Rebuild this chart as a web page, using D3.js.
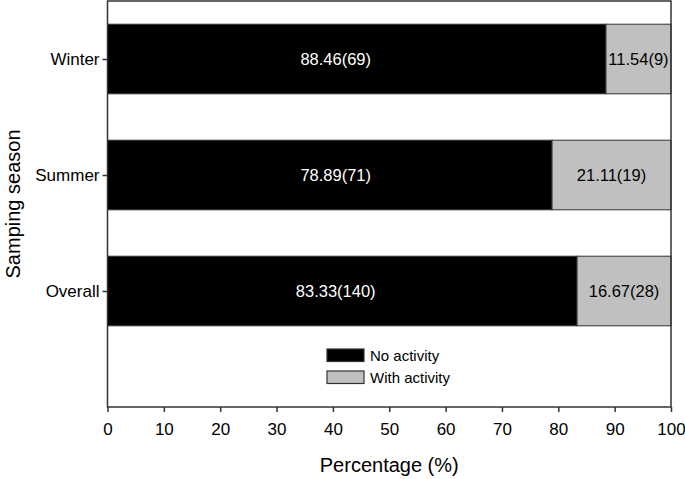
<html>
<head>
<script src="https://d3js.org/d3.v7.min.js"></script>
<style>
body { margin: 0; background: #fff; }
text { font-family: "Liberation Sans", Arial, sans-serif; }
</style>
</head>
<body>
<svg width="685" height="479"></svg>
<script>
var seasons = ["Winter", "Summer", "Overall"];
var seasonPos = [3, 2, 1];
var noActivity = [88.46, 78.89, 83.33];
var withActivity = [11.54, 21.11, 16.67];
var noCount = [69, 71, 140];
var withCount = [9, 19, 28];
var xTicks = [0, 10, 20, 30, 40, 50, 60, 70, 80, 90, 100];
var seriesNames = ["No activity", "With activity"];
var seriesColors = ["#000000", "#c0c0c0"];

var width = 685, height = 479;
var margin = {top: 1, right: 14, bottom: 72, left: 107.5};
var innerwidth = width - margin.left - margin.right;
var innerheight = height - margin.top - margin.bottom;

var svg = d3.select("svg");
var g = svg.append("g")
	.attr("transform", "translate(" + margin.left + "," + margin.top + ")");

var x = d3.scaleLinear().domain([0, 100]).range([0, innerwidth]);
var y = d3.scaleLinear().domain([0, 3.5]).range([innerheight, 0]);
var barH = y(0) - y(0.6);

var data = seasons.map(function(s, i) {
	return {season: s, pos: seasonPos[i], no: noActivity[i], yes: withActivity[i], nc: noCount[i], yc: withCount[i]};
});

// black segments
g.selectAll(".nobar").data(data).enter().append("rect")
	.attr("x", x(0))
	.attr("y", d => y(d.pos) - barH / 2)
	.attr("width", d => x(d.no) - x(0))
	.attr("height", barH)
	.attr("fill", seriesColors[0])
	.attr("stroke", "#333")
	.attr("stroke-width", 1);
// gray segments
g.selectAll(".yesbar").data(data).enter().append("rect")
	.attr("x", d => x(d.no))
	.attr("y", d => y(d.pos) - barH / 2)
	.attr("width", d => x(d.no + d.yes) - x(d.no))
	.attr("height", barH)
	.attr("fill", seriesColors[1])
	.attr("stroke", "#333")
	.attr("stroke-width", 1);

// labels
g.selectAll(".nolab").data(data).enter().append("text")
	.attr("x", x(40.5))
	.attr("y", d => y(d.pos))
	.attr("dy", "0.36em")
	.attr("text-anchor", "middle")
	.attr("fill", "#fff")
	.style("font-size", "16.5px")
	.text(d => d.no.toFixed(2) + "(" + d.nc + ")");
g.selectAll(".yeslab").data(data).enter().append("text")
	.attr("x", d => x(d.no + d.yes / 2))
	.attr("y", d => y(d.pos))
	.attr("dy", "0.36em")
	.attr("text-anchor", "middle")
	.attr("fill", "#000")
	.style("font-size", "16.5px")
	.text(d => d.yes.toFixed(2) + "(" + d.yc + ")");

// frame
g.append("rect")
	.attr("x", 0).attr("y", 0)
	.attr("width", innerwidth).attr("height", innerheight)
	.attr("fill", "none")
	.attr("stroke", "#333")
	.attr("stroke-width", 1.5);

// axes
var xAxis = g.append("g")
	.attr("transform", "translate(0," + innerheight + ")")
	.call(d3.axisBottom(x).tickValues(xTicks).tickSize(5).tickPadding(11));
xAxis.select(".domain").remove();
xAxis.selectAll("line").attr("stroke", "#333").attr("stroke-width", 1.5);
xAxis.selectAll("text").style("font-size", "17px").attr("fill", "#000")
	.style("font-family", "'Liberation Sans', Arial, sans-serif");

var yAxis = g.append("g")
	.call(d3.axisLeft(y).tickValues(seasonPos).tickFormat((d, i) => seasons[i]).tickSize(5).tickPadding(3));
yAxis.select(".domain").remove();
yAxis.selectAll("line").attr("stroke", "#333").attr("stroke-width", 1.5);
yAxis.selectAll("text").style("font-size", "17px").attr("fill", "#000")
	.style("font-family", "'Liberation Sans', Arial, sans-serif");

// axis titles
svg.append("text")
	.attr("x", margin.left + innerwidth / 2)
	.attr("y", 472)
	.attr("text-anchor", "middle")
	.style("font-size", "20px")
	.text("Percentage (%)");
svg.append("text")
	.attr("transform", "translate(20," + (margin.top + innerheight / 2) + ") rotate(-90)")
	.attr("text-anchor", "middle")
	.style("font-size", "20px")
	.text("Samping season");

// legend
var legend = svg.append("g").attr("transform", "translate(327,349)");
seriesNames.forEach(function(name, i) {
	legend.append("rect")
		.attr("x", 0).attr("y", i * 22)
		.attr("width", 37).attr("height", 12.5)
		.attr("fill", seriesColors[i])
		.attr("stroke", "#333").attr("stroke-width", 1.2);
	legend.append("text")
		.attr("x", 43).attr("y", i * 22 + 6.5)
		.attr("dy", "0.36em")
		.style("font-size", "15px")
		.text(name);
});
</script>
</body>
</html>
